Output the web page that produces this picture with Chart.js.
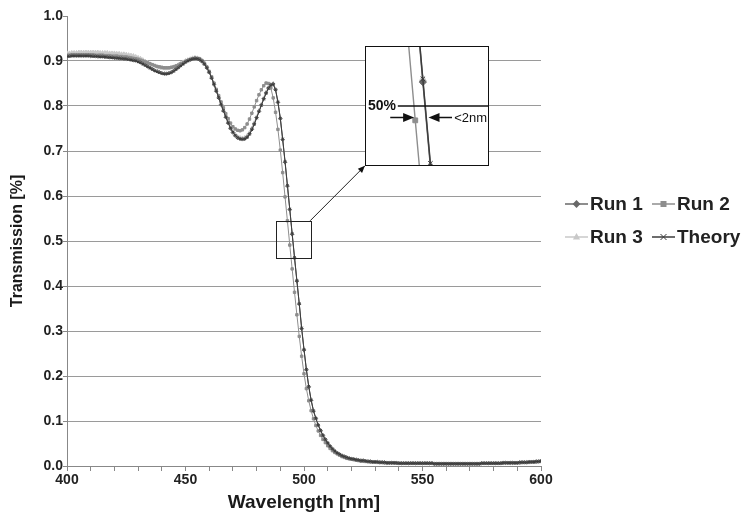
<!DOCTYPE html>
<html>
<head>
<meta charset="utf-8">
<script src="https://cdn.jsdelivr.net/npm/chart.js@4.4.1/dist/chart.umd.min.js"></script>
<style>
  html, body { margin: 0; padding: 0; background: #fff; }
  #wrap { position: relative; width: 743px; height: 521px; }
  #inset { position: absolute; background: #fff; border: 1px solid #111; box-sizing: border-box; }
  #inset canvas { display: block; }
</style>
</head>
<body>
<div id="wrap">
  <canvas id="transChart" width="743" height="521"></canvas>
  <div id="inset"><canvas id="zoomChart"></canvas></div>
</div>
<script>
const FONT = '"Liberation Sans", Arial, Helvetica, sans-serif';

// wavelength axis, 1 nm steps
const wavelengths = Array.from({ length: 201 }, (_, i) => 400 + i);
const xTickLabels = [400, 450, 500, 550, 600];
const yTickLabels = ['0.0', '0.1', '0.2', '0.3', '0.4', '0.5', '0.6', '0.7', '0.8', '0.9', '1.0'];
const seriesNames = ['Run 1', 'Run 2', 'Run 3', 'Theory'];

const run1 = [
  /*400*/ 0.911,0.911,0.912,0.912,0.912,0.912,0.912,0.912,0.912,0.912,
  /*410*/ 0.911,0.911,0.911,0.910,0.910,0.910,0.909,0.909,0.908,0.908,
  /*420*/ 0.907,0.907,0.906,0.906,0.905,0.905,0.904,0.903,0.902,0.901,
  /*430*/ 0.899,0.897,0.894,0.891,0.888,0.885,0.882,0.879,0.877,0.875,
  /*440*/ 0.873,0.872,0.872,0.873,0.875,0.878,0.882,0.886,0.890,0.894,
  /*450*/ 0.898,0.901,0.903,0.905,0.906,0.905,0.903,0.899,0.893,0.885,
  /*460*/ 0.875,0.862,0.848,0.833,0.818,0.803,0.789,0.775,0.762,0.750,
  /*470*/ 0.741,0.734,0.729,0.727,0.726,0.727,0.731,0.738,0.748,0.760,
  /*480*/ 0.774,0.788,0.802,0.816,0.829,0.840,0.847,0.849,0.836,0.808,
  /*490*/ 0.772,0.725,0.675,0.622,0.570,0.515,0.462,0.411,0.360,0.305,
  /*500*/ 0.258,0.214,0.176,0.146,0.122,0.106,0.091,0.079,0.068,0.059,
  /*510*/ 0.051,0.044,0.038,0.033,0.029,0.026,0.023,0.021,0.019,0.017,
  /*520*/ 0.016,0.015,0.014,0.013,0.012,0.012,0.011,0.010,0.010,0.009,
  /*530*/ 0.009,0.009,0.008,0.008,0.008,0.007,0.007,0.007,0.007,0.007,
  /*540*/ 0.006,0.006,0.006,0.006,0.006,0.006,0.006,0.006,0.006,0.006,
  /*550*/ 0.006,0.006,0.006,0.006,0.006,0.005,0.005,0.005,0.005,0.005,
  /*560*/ 0.005,0.005,0.005,0.005,0.005,0.005,0.005,0.005,0.005,0.005,
  /*570*/ 0.005,0.005,0.005,0.005,0.005,0.006,0.006,0.006,0.006,0.006,
  /*580*/ 0.006,0.006,0.006,0.006,0.007,0.007,0.007,0.007,0.007,0.007,
  /*590*/ 0.007,0.008,0.008,0.008,0.008,0.009,0.009,0.009,0.010,0.010,
  /*600*/ 0.011
];

const run2 = [
  /*400*/ 0.913,0.913,0.914,0.914,0.914,0.914,0.914,0.914,0.914,0.914,
  /*410*/ 0.914,0.914,0.913,0.913,0.913,0.913,0.912,0.912,0.912,0.911,
  /*420*/ 0.911,0.911,0.910,0.910,0.909,0.909,0.908,0.907,0.906,0.905,
  /*430*/ 0.904,0.902,0.900,0.898,0.896,0.894,0.892,0.890,0.888,0.887,
  /*440*/ 0.886,0.885,0.885,0.885,0.886,0.887,0.889,0.891,0.894,0.896,
  /*450*/ 0.899,0.901,0.903,0.905,0.906,0.906,0.905,0.901,0.895,0.887,
  /*460*/ 0.877,0.865,0.851,0.837,0.823,0.809,0.796,0.783,0.772,0.762,
  /*470*/ 0.754,0.749,0.746,0.745,0.747,0.752,0.760,0.771,0.784,0.798,
  /*480*/ 0.812,0.825,0.836,0.845,0.851,0.850,0.840,0.818,0.786,0.748,
  /*490*/ 0.702,0.652,0.598,0.545,0.491,0.438,0.386,0.336,0.288,0.244,
  /*500*/ 0.205,0.172,0.145,0.123,0.105,0.090,0.078,0.068,0.059,0.052,
  /*510*/ 0.045,0.039,0.034,0.030,0.027,0.024,0.021,0.019,0.017,0.016,
  /*520*/ 0.015,0.014,0.013,0.012,0.011,0.011,0.010,0.010,0.009,0.009,
  /*530*/ 0.009,0.008,0.008,0.008,0.007,0.007,0.007,0.007,0.007,0.006,
  /*540*/ 0.006,0.006,0.006,0.006,0.006,0.006,0.006,0.006,0.006,0.006,
  /*550*/ 0.006,0.006,0.006,0.006,0.006,0.005,0.005,0.005,0.005,0.005,
  /*560*/ 0.005,0.005,0.005,0.005,0.005,0.005,0.005,0.005,0.005,0.005,
  /*570*/ 0.005,0.005,0.005,0.005,0.005,0.006,0.006,0.006,0.006,0.006,
  /*580*/ 0.006,0.006,0.006,0.006,0.007,0.007,0.007,0.007,0.007,0.007,
  /*590*/ 0.007,0.007,0.008,0.008,0.008,0.008,0.009,0.009,0.009,0.010,
  /*600*/ 0.010
];

const run3 = [
  /*400*/ 0.918,0.918,0.919,0.919,0.919,0.920,0.920,0.920,0.920,0.920,
  /*410*/ 0.920,0.920,0.920,0.920,0.919,0.919,0.919,0.919,0.918,0.918,
  /*420*/ 0.918,0.917,0.917,0.916,0.916,0.915,0.914,0.913,0.912,0.910,
  /*430*/ 0.908,0.906,0.903,0.900,0.897,0.894,0.891,0.889,0.887,0.885,
  /*440*/ 0.884,0.883,0.883,0.884,0.885,0.887,0.889,0.892,0.895,0.898,
  /*450*/ 0.901,0.903,0.905,0.907,0.908,0.907,0.905,0.901,0.895,0.886,
  /*460*/ 0.876,0.863,0.849,0.834,0.819,0.804,0.790,0.777,0.764,0.753,
  /*470*/ 0.744,0.737,0.732,0.730,0.729,0.730,0.734,0.741,0.751,0.763,
  /*480*/ 0.776,0.790,0.804,0.818,0.831,0.841,0.848,0.850,0.838,0.810,
  /*490*/ 0.774,0.727,0.677,0.624,0.571,0.517,0.463,0.412,0.361,0.307,
  /*500*/ 0.259,0.215,0.177,0.147,0.123,0.106,0.091,0.079,0.068,0.059,
  /*510*/ 0.051,0.044,0.038,0.033,0.029,0.026,0.023,0.021,0.019,0.017,
  /*520*/ 0.016,0.015,0.014,0.013,0.012,0.012,0.011,0.010,0.010,0.009,
  /*530*/ 0.009,0.009,0.008,0.008,0.008,0.007,0.007,0.007,0.007,0.007,
  /*540*/ 0.006,0.006,0.006,0.006,0.006,0.006,0.006,0.006,0.006,0.006,
  /*550*/ 0.006,0.006,0.006,0.006,0.006,0.005,0.005,0.005,0.005,0.005,
  /*560*/ 0.005,0.005,0.005,0.005,0.005,0.005,0.005,0.005,0.005,0.005,
  /*570*/ 0.005,0.005,0.005,0.005,0.005,0.006,0.006,0.006,0.006,0.006,
  /*580*/ 0.006,0.006,0.006,0.006,0.007,0.007,0.007,0.007,0.007,0.007,
  /*590*/ 0.007,0.008,0.008,0.008,0.008,0.009,0.009,0.009,0.010,0.010,
  /*600*/ 0.011
];

const theory = [
  /*400*/ 0.910,0.910,0.911,0.911,0.911,0.911,0.911,0.911,0.911,0.911,
  /*410*/ 0.911,0.910,0.910,0.910,0.909,0.909,0.909,0.908,0.908,0.907,
  /*420*/ 0.907,0.906,0.906,0.905,0.905,0.904,0.903,0.902,0.901,0.900,
  /*430*/ 0.898,0.896,0.893,0.890,0.887,0.884,0.881,0.878,0.876,0.874,
  /*440*/ 0.872,0.871,0.871,0.872,0.874,0.877,0.881,0.885,0.889,0.893,
  /*450*/ 0.897,0.900,0.903,0.904,0.905,0.905,0.903,0.899,0.893,0.885,
  /*460*/ 0.875,0.863,0.849,0.834,0.819,0.804,0.790,0.776,0.763,0.751,
  /*470*/ 0.742,0.735,0.730,0.727,0.726,0.727,0.730,0.737,0.747,0.759,
  /*480*/ 0.773,0.787,0.801,0.815,0.828,0.839,0.846,0.848,0.836,0.809,
  /*490*/ 0.773,0.727,0.677,0.624,0.571,0.517,0.464,0.412,0.361,0.307,
  /*500*/ 0.259,0.215,0.177,0.147,0.123,0.106,0.091,0.079,0.068,0.059,
  /*510*/ 0.051,0.044,0.038,0.033,0.029,0.026,0.023,0.021,0.019,0.017,
  /*520*/ 0.016,0.015,0.014,0.013,0.012,0.012,0.011,0.010,0.010,0.009,
  /*530*/ 0.009,0.009,0.008,0.008,0.008,0.007,0.007,0.007,0.007,0.007,
  /*540*/ 0.006,0.006,0.006,0.006,0.006,0.006,0.006,0.006,0.006,0.006,
  /*550*/ 0.006,0.006,0.006,0.006,0.006,0.005,0.005,0.005,0.005,0.005,
  /*560*/ 0.005,0.005,0.005,0.005,0.005,0.005,0.005,0.005,0.005,0.005,
  /*570*/ 0.005,0.005,0.005,0.005,0.005,0.006,0.006,0.006,0.006,0.006,
  /*580*/ 0.006,0.006,0.006,0.006,0.007,0.007,0.007,0.007,0.007,0.007,
  /*590*/ 0.007,0.008,0.008,0.008,0.008,0.009,0.009,0.009,0.010,0.010,
  /*600*/ 0.011
];

const seriesValues = [run1, run2, run3, theory];
const seriesStyles = [
  { color: '#686868', point: 'rectRot', radius: 1.8, order: 1 },
  { color: '#8e8e8e', point: 'rect', radius: 1.7, order: 2 },
  { color: '#c8c8c8', point: 'triangle', radius: 2.0, order: 3 },
  { color: '#3c3c3c', point: 'crossRot', radius: 1.6, order: 0 }
];

// zoom box on the edge and where the blow-up sits (data units of the main chart)
const zoomBox = { x0: 488, x1: 502.6, y0: 0.463, y1: 0.545 };
const insetArea = { x0: 525.7, x1: 578.2, y0: 0.667, y1: 0.933 };
const insetRange = { x0: 487.5, x1: 503.6, y0: 0.463, y1: 0.537 };

function makeDatasets(scale) {
  return seriesValues.map((vals, k) => ({
    label: seriesNames[k],
    data: vals.map((v, i) => ({ x: wavelengths[i], y: v })),
    borderColor: seriesStyles[k].color,
    backgroundColor: seriesStyles[k].color,
    pointStyle: seriesStyles[k].point,
    pointRadius: seriesStyles[k].radius * scale,
    pointBorderWidth: 1,
    pointBorderColor: seriesStyles[k].color,
    pointBackgroundColor: seriesStyles[k].color,
    borderWidth: scale > 1 ? 1.4 : 1,
    tension: 0,
    order: seriesStyles[k].order
  }));
}

function arrowHead(ctx, x1, y1, x2, y2, len, half) {
  const a = Math.atan2(y2 - y1, x2 - x1);
  ctx.beginPath();
  ctx.moveTo(x2, y2);
  ctx.lineTo(x2 - len * Math.cos(a) + half * Math.sin(a), y2 - len * Math.sin(a) - half * Math.cos(a));
  ctx.lineTo(x2 - len * Math.cos(a) - half * Math.sin(a), y2 - len * Math.sin(a) + half * Math.cos(a));
  ctx.closePath();
  ctx.fill();
}

function drawMarker(ctx, style, x, y, r) {
  ctx.beginPath();
  if (style === 'rect') {
    ctx.rect(x - r, y - r, 2 * r, 2 * r);
    ctx.fill();
  } else if (style === 'rectRot') {
    ctx.moveTo(x, y - r * 1.3); ctx.lineTo(x + r * 1.3, y);
    ctx.lineTo(x, y + r * 1.3); ctx.lineTo(x - r * 1.3, y);
    ctx.closePath(); ctx.fill();
  } else if (style === 'triangle') {
    ctx.moveTo(x, y - r * 1.3); ctx.lineTo(x + r * 1.2, y + r * 0.8);
    ctx.lineTo(x - r * 1.2, y + r * 0.8); ctx.closePath(); ctx.fill();
  } else {
    ctx.moveTo(x - r, y - r); ctx.lineTo(x + r, y + r);
    ctx.moveTo(x + r, y - r); ctx.lineTo(x - r, y + r);
    ctx.stroke();
  }
}

// little rectangle + arrow pointing to the blow-up
const zoomMarker = {
  id: 'zoomMarker',
  afterDatasetsDraw(chart) {
    const { ctx, scales: { x, y } } = chart;
    const bx0 = x.getPixelForValue(zoomBox.x0), bx1 = x.getPixelForValue(zoomBox.x1);
    const by0 = y.getPixelForValue(zoomBox.y1), by1 = y.getPixelForValue(zoomBox.y0);
    ctx.save();
    ctx.strokeStyle = '#222';
    ctx.lineWidth = 1;
    ctx.strokeRect(Math.round(bx0) + 0.5, Math.round(by0) + 0.5, Math.round(bx1 - bx0), Math.round(by1 - by0));
    const ax = x.getPixelForValue(insetArea.x0), ay = y.getPixelForValue(insetArea.y0);
    ctx.beginPath();
    ctx.moveTo(bx1, by0);
    ctx.lineTo(ax, ay);
    ctx.stroke();
    ctx.fillStyle = '#111';
    arrowHead(ctx, bx1, by0, ax, ay, 7, 3);
    ctx.restore();
  }
};

// legend laid out 2 x 2 at the right
const sideLegend = {
  id: 'sideLegend',
  afterDraw(chart) {
    const { ctx } = chart;
    const spots = [[565, 204], [652, 204], [565, 237], [652, 237]];
    ctx.save();
    chart.data.datasets.forEach((ds, k) => {
      const [lx, ly] = spots[k];
      ctx.strokeStyle = ds.borderColor;
      ctx.fillStyle = ds.borderColor;
      ctx.lineWidth = 1.5;
      ctx.beginPath();
      ctx.moveTo(lx, ly); ctx.lineTo(lx + 23, ly);
      ctx.stroke();
      ctx.lineWidth = 1;
      drawMarker(ctx, seriesStyles[k].point, lx + 11.5, ly, 3);
      ctx.fillStyle = '#222';
      ctx.font = 'bold 19px ' + FONT;
      ctx.textBaseline = 'middle';
      ctx.textAlign = 'left';
      ctx.fillText(ds.label, lx + 25, ly + 1);
    });
    ctx.restore();
  }
};

const tickFont = { family: FONT, size: 14, weight: 'bold' };

const mainChart = new Chart(document.getElementById('transChart'), {
  type: 'line',
  data: { datasets: makeDatasets(1) },
  options: {
    responsive: false,
    animation: false,
    layout: { autoPadding: false, padding: { top: 16, right: 202, left: 0, bottom: 0 } },
    plugins: { legend: { display: false }, tooltip: { enabled: false } },
    scales: {
      x: {
        type: 'linear', min: 400, max: 600,
        ticks: {
          stepSize: 10, autoSkip: false, maxRotation: 0, color: '#222', font: tickFont, padding: 1,
          callback: v => xTickLabels.includes(v) ? String(v) : ''
        },
        grid: { drawOnChartArea: false, drawTicks: true, tickLength: 5, color: '#888' },
        border: { color: '#888' },
        title: {
          display: true, text: 'Wavelength [nm]', color: '#1a1a1a',
          font: { family: FONT, size: 19, weight: 'bold' }, padding: { top: 0, bottom: 7 }
        },
        afterFit: s => { s.height = 55; }
      },
      y: {
        min: 0, max: 1,
        ticks: {
          stepSize: 0.1, color: '#222', font: tickFont, padding: 0,
          callback: v => yTickLabels[Math.round(v * 10)]
        },
        grid: {
          color: c => (c.tick && Math.abs(c.tick.value - 1) < 1e-6) ? 'rgba(0,0,0,0)' : '#9a9a9a',
          tickColor: '#888', tickLength: 4
        },
        border: { color: '#888' },
        title: {
          display: true, text: 'Transmission [%]', color: '#1a1a1a',
          font: { family: FONT, size: 16, weight: 'bold' }, padding: { top: 8, bottom: 0 }
        },
        afterFit: s => { s.width = 67; }
      }
    }
  },
  plugins: [zoomMarker, sideLegend]
});

// place the blow-up over the main chart
const mx = mainChart.scales.x, my = mainChart.scales.y;
const insetLeft = Math.round(mx.getPixelForValue(insetArea.x0));
const insetRight = Math.round(mx.getPixelForValue(insetArea.x1));
const insetTop = Math.round(my.getPixelForValue(insetArea.y1));
const insetBottom = Math.round(my.getPixelForValue(insetArea.y0));
const insetDiv = document.getElementById('inset');
insetDiv.style.left = insetLeft + 'px';
insetDiv.style.top = insetTop + 'px';
insetDiv.style.width = (insetRight - insetLeft) + 'px';
insetDiv.style.height = (insetBottom - insetTop) + 'px';
const zoomCanvas = document.getElementById('zoomChart');
zoomCanvas.width = insetRight - insetLeft - 2;
zoomCanvas.height = insetBottom - insetTop - 2;

const insetNotes = {
  id: 'insetNotes',
  afterDraw(chart) {
    const { ctx, scales: { x, y } } = chart;
    const y50 = y.getPixelForValue(0.5);
    const yArrow = y.getPixelForValue(0.4928);
    ctx.save();
    ctx.fillStyle = '#111';
    ctx.strokeStyle = '#111';
    ctx.font = 'bold 14px ' + FONT;
    ctx.textBaseline = 'middle';
    ctx.textAlign = 'left';
    ctx.fillText('50%', x.getPixelForValue(487.75), y50);
    ctx.lineWidth = 1.5;
    ctx.beginPath();
    ctx.moveTo(x.getPixelForValue(491.7), y50);
    ctx.lineTo(chart.chartArea.right, y50);
    ctx.stroke();
    // arrows towards the two 50% crossings
    const l0 = x.getPixelForValue(490.7), l1 = x.getPixelForValue(493.85);
    const r0 = x.getPixelForValue(498.85), r1 = x.getPixelForValue(495.75);
    ctx.lineWidth = 1.6;
    ctx.beginPath();
    ctx.moveTo(l0, yArrow); ctx.lineTo(l1 - 8, yArrow);
    ctx.moveTo(r0, yArrow); ctx.lineTo(r1 + 8, yArrow);
    ctx.stroke();
    arrowHead(ctx, l0, yArrow, l1, yArrow, 11, 4.5);
    arrowHead(ctx, r0, yArrow, r1, yArrow, 11, 4.5);
    ctx.font = '13px ' + FONT;
    ctx.fillText('<2nm', x.getPixelForValue(499.15), yArrow + 1);
    ctx.restore();
  }
};

new Chart(zoomCanvas, {
  type: 'line',
  data: { datasets: makeDatasets(2) },
  options: {
    responsive: false,
    animation: false,
    layout: { autoPadding: false, padding: 0 },
    plugins: { legend: { display: false }, tooltip: { enabled: false } },
    scales: {
      x: { type: 'linear', display: false, min: insetRange.x0, max: insetRange.x1 },
      y: { display: false, min: insetRange.y0, max: insetRange.y1 }
    }
  },
  plugins: [insetNotes]
});
</script>
</body>
</html>
